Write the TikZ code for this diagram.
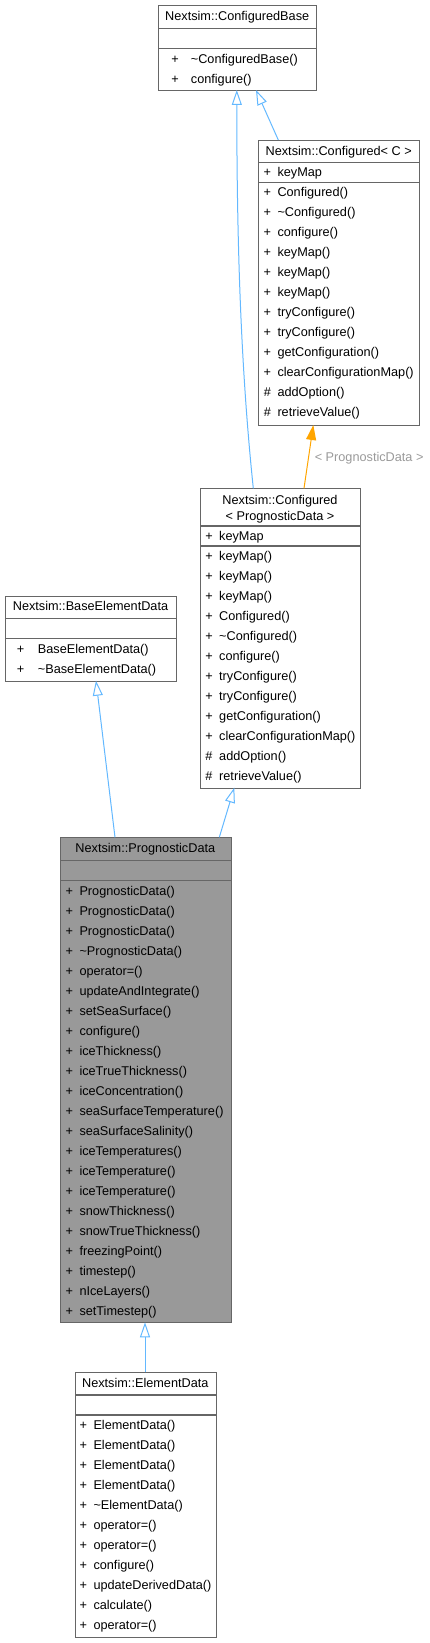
\documentclass[tikz,border=0pt]{standalone}
\usepackage{fontspec}
\setmainfont{Liberation Sans}
\usetikzlibrary{arrows.meta}
\definecolor{edgeblue}{HTML}{63B8FF}
\definecolor{edgeorange}{HTML}{FFA500}
\definecolor{boxgray}{HTML}{666666}
\definecolor{fillgray}{HTML}{999999}
\definecolor{lblgray}{HTML}{9A9A9A}
\tikzset{
  box/.style={draw=boxgray, line width=1.1pt, fill=white, rectangle, inner sep=0pt, anchor=north west},
  hibox/.style={box, fill=fillgray},
  sep/.style={draw=boxgray, line width=1.1pt},
  txt/.style={font=\fontsize{12.7}{15.2}\selectfont, inner sep=0pt, text=black},
  sgn/.style={txt, anchor=mid},
  mem/.style={txt, anchor=mid west},
  ttl/.style={txt, anchor=mid},
  inh/.style={draw=edgeblue, line width=1pt, -{Triangle[open, length=15pt, width=10pt]}},
  tmpl/.style={draw=edgeorange, line width=1pt, -{Triangle[length=15pt, width=10pt]}},
  lbl/.style={txt, text=lblgray, anchor=mid west},
}
\newcommand\memrows[5]{%
  \foreach[count=\ri] \vsg/\vtx in {#5} {
    \node[sgn] (#4s\ri) at (#1, {#3+1+20*(\ri-1)}) {\vsg};
    \node[mem] (#4t\ri) at (#2, {#3+1+20*(\ri-1)}) {\vtx};
  }%
}
\begin{document}
\begin{tikzpicture}[x=1pt, y=-1pt]
\useasboundingbox (0,0) rectangle (430,1643);

% ---------- Nextsim::ConfiguredBase ----------
\node[box, minimum width=157.7pt, minimum height=85pt] (cb) at (158.3,5) {};
\draw[sep] (158.3,28.3) -- (316,28.3);
\draw[sep] (158.3,48.3) -- (316,48.3);
\node[ttl] (cbtitle) at (237.2,17.5) {Nextsim::ConfiguredBase};
\memrows{175}{190.7}{60}{cbm}{+/\textasciitilde{}ConfiguredBase(), +/configure()}

% ---------- Nextsim::Configured< C > ----------
\node[box, minimum width=160.7pt, minimum height=285pt] (cc) at (258.3,140) {};
\draw[sep] (258.3,162.7) -- (419,162.7);
\draw[sep] (258.3,182.3) -- (419,182.3);
\node[ttl] (cctitle) at (338.7,152.5) {Nextsim::Configured< C >};
\memrows{267.3}{277.3}{173.3}{cca}{+/keyMap}
\memrows{267.3}{277.3}{193.3}{ccm}{+/Configured(), +/\textasciitilde{}Configured(), +/configure(), +/keyMap(), +/keyMap(), +/keyMap(), +/tryConfigure(), +/tryConfigure(), +/getConfiguration(), +/clearConfigurationMap(), \#/addOption(), \#/retrieveValue()}

% ---------- Nextsim::Configured< PrognosticData > ----------
\node[box, minimum width=160pt, minimum height=299.4pt] (cpd) at (200,488.3) {};
\draw[sep] (200,526) -- (360,526);
\draw[sep] (200,546) -- (360,546);
\node[ttl] (cpdtitle1) at (280,501.5) {Nextsim::Configured};
\node[ttl] (cpdtitle2) at (280,517.8) {< PrognosticData >};
\memrows{209}{219}{536.7}{cpda}{+/keyMap}
\memrows{209}{219}{556.7}{cpdm}{+/keyMap(), +/keyMap(), +/keyMap(), +/Configured(), +/\textasciitilde{}Configured(), +/configure(), +/tryConfigure(), +/tryConfigure(), +/getConfiguration(), +/clearConfigurationMap(), \#/addOption(), \#/retrieveValue()}

% ---------- Nextsim::BaseElementData ----------
\node[box, minimum width=171pt, minimum height=85pt] (be) at (5,595.7) {};
\draw[sep] (5,618.3) -- (176,618.3);
\draw[sep] (5,638.3) -- (176,638.3);
\node[ttl] (betitle) at (90.5,608) {Nextsim::BaseElementData};
\memrows{20.7}{37.7}{650}{bem}{+/BaseElementData(), +/\textasciitilde{}BaseElementData()}

% ---------- Nextsim::PrognosticData ----------
\node[hibox, minimum width=170.7pt, minimum height=485pt] (pd) at (60,837.3) {};
\draw[sep] (60,860.7) -- (230.7,860.7);
\draw[sep] (60,880.7) -- (230.7,880.7);
\node[ttl] (pdtitle) at (145.3,850) {Nextsim::PrognosticData};
\memrows{69.3}{79.3}{891.7}{pdm}{+/PrognosticData(), +/PrognosticData(), +/PrognosticData(), +/\textasciitilde{}PrognosticData(), +/operator=(), +/updateAndIntegrate(), +/setSeaSurface(), +/configure(), +/iceThickness(), +/iceTrueThickness(), +/iceConcentration(), +/seaSurfaceTemperature(), +/seaSurfaceSalinity(), +/iceTemperatures(), +/iceTemperature(), +/iceTemperature(), +/snowThickness(), +/snowTrueThickness(), +/freezingPoint(), +/timestep(), +/nIceLayers(), +/setTimestep()}

% ---------- Nextsim::ElementData ----------
\node[box, minimum width=140.7pt, minimum height=265pt] (ed) at (75,1372.3) {};
\draw[sep] (75,1395) -- (215.7,1395);
\draw[sep] (75,1415) -- (215.7,1415);
\node[ttl] (edtitle) at (145.3,1385) {Nextsim::ElementData};
\memrows{83.3}{93.3}{1426}{edm}{+/ElementData(), +/ElementData(), +/ElementData(), +/ElementData(), +/\textasciitilde{}ElementData(), +/operator=(), +/operator=(), +/configure(), +/updateDerivedData(), +/calculate(), +/operator=()}

% ---------- connectors ----------
\coordinate (cpdtopA) at (253.3,488.3);
\coordinate (cbbotA) at (236.8,90);
\coordinate (cctop) at (278.3,140);
\coordinate (cbbotB) at (256,90);
\coordinate (cpdtopB) at (304,488.3);
\coordinate (ccbot) at (313.3,425);
\coordinate (pdtopA) at (115,837.3);
\coordinate (bebot) at (96,680.7);
\coordinate (pdtopB) at (219.3,837.3);
\coordinate (cpdbot) at (234.3,787.7);
\coordinate (edtop) at (145,1372.3);
\coordinate (pdbot) at (145,1322.3);

\draw[inh] (cpdtopA) .. controls (242,380) and (236.8,260) .. (cbbotA);
\draw[inh] (cctop) -- (cbbotB);
\draw[tmpl] (cpdtopB) -- (ccbot) node[lbl, pos=0.46, xshift=6pt] (tlabel) {< PrognosticData >};
\draw[inh] (pdtopA) -- (bebot);
\draw[inh] (pdtopB) -- (cpdbot);
\draw[inh] (edtop) -- (pdbot);
\end{tikzpicture}
\end{document}
